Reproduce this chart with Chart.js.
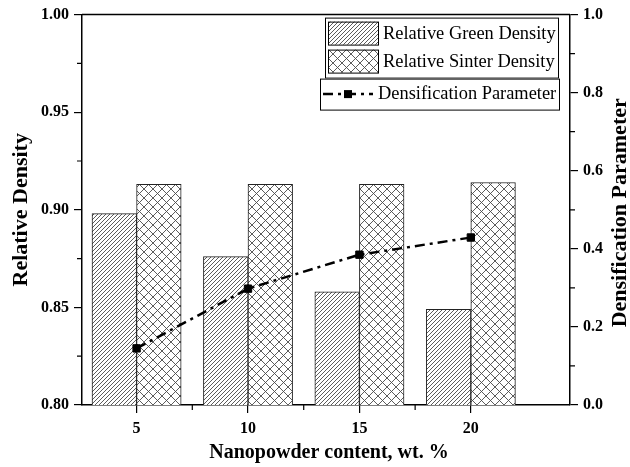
<!DOCTYPE html>
<html>
<head>
<meta charset="utf-8">
<script src="https://cdn.jsdelivr.net/npm/chart.js@4.4.0/dist/chart.umd.min.js"></script>
<style>
  html, body { margin: 0; padding: 0; background: #fff; }
  #wrap { width: 630px; height: 467px; position: relative; }
</style>
</head>
<body>
<div id="wrap"><canvas id="grafico"></canvas></div>
<script>
// Valores
const conteudo = [5, 10, 15, 20];                 // Nanopowder content, wt. %
const densVerde = [0.898, 0.876, 0.858, 0.849];   // Relative Green Density
const densSinter = [0.913, 0.913, 0.913, 0.914];  // Relative Sinter Density
const paramDensif = [0.145, 0.298, 0.385, 0.429]; // Densification Parameter
const ticksX = [5, 10, 15, 20];
const ticksEsq = [0.80, 0.85, 0.90, 0.95, 1.00];
const ticksDir = [0.0, 0.2, 0.4, 0.6, 0.8, 1.0];

const FONTE = "'Liberation Serif', 'Times New Roman', serif";
const MEIA_BARRA = 1; // meia largura de cada barra, em wt. %
const TRACO = [10, 5, 3, 5]; // traço-ponto da linha

// Padrões de hachura (diagonal e xadrez)
function criarPadrao(tam, desenha) {
  const c = document.createElement('canvas');
  c.width = c.height = tam;
  const ctx = c.getContext('2d');
  ctx.fillStyle = '#fff';
  ctx.fillRect(0, 0, tam, tam);
  ctx.strokeStyle = '#4a4a4a';
  ctx.lineWidth = 0.9;
  desenha(ctx, tam);
  return ctx.createPattern(c, 'repeat');
}

const padraoDiagonal = criarPadrao(4, (ctx, t) => {
  ctx.beginPath();
  ctx.moveTo(0, t); ctx.lineTo(t, 0);
  ctx.moveTo(-1, 1); ctx.lineTo(1, -1);
  ctx.moveTo(t - 1, t + 1); ctx.lineTo(t + 1, t - 1);
  ctx.stroke();
});

const padraoXadrez = criarPadrao(9, (ctx, t) => {
  ctx.beginPath();
  ctx.moveTo(0, 0); ctx.lineTo(t, t);
  ctx.moveTo(0, t); ctx.lineTo(t, 0);
  ctx.stroke();
});

// Pontos médios entre ticks principais -> ticks menores
function meios(arr) {
  const r = [];
  for (let i = 0; i < arr.length - 1; i++) r.push((arr[i] + arr[i + 1]) / 2);
  return r;
}

// Moldura, ticks menores, títulos dos eixos e legenda
const pluginExtras = {
  id: 'extras',
  afterDatasetsDraw(chart) {
    const { ctx, chartArea: a, scales } = chart;
    ctx.save();
    ctx.strokeStyle = '#000';
    ctx.lineWidth = 1.5;
    ctx.beginPath();
    ctx.moveTo(a.left, a.top); ctx.lineTo(a.right, a.top);
    ctx.stroke();

    ctx.lineWidth = 1.2;
    ctx.beginPath();
    meios(ticksX).forEach(v => {
      const x = scales.x.getPixelForValue(v);
      ctx.moveTo(x, a.bottom); ctx.lineTo(x, a.bottom + 5);
    });
    meios(ticksEsq).forEach(v => {
      const y = scales.y.getPixelForValue(v);
      ctx.moveTo(a.left, y); ctx.lineTo(a.left - 5, y);
    });
    meios(ticksDir).forEach(v => {
      const y = scales.y1.getPixelForValue(v);
      ctx.moveTo(a.right, y); ctx.lineTo(a.right + 5, y);
    });
    ctx.stroke();

    // títulos
    ctx.fillStyle = '#000';
    ctx.font = `bold 20px ${FONTE}`;
    ctx.textAlign = 'center';
    ctx.textBaseline = 'middle';
    ctx.fillText('Nanopowder content, wt. %', (a.left + a.right) / 2 + 3, 453);
    ctx.font = `bold 22px ${FONTE}`;
    ctx.save();
    ctx.translate(21, (a.top + a.bottom) / 2);
    ctx.rotate(-Math.PI / 2);
    ctx.fillText('Relative Density', 0, 0);
    ctx.restore();
    ctx.save();
    ctx.translate(620, (a.top + a.bottom) / 2 + 3);
    ctx.rotate(-Math.PI / 2);
    ctx.fillText('Densification Parameter', 0, 0);
    ctx.restore();

    // legenda
    ctx.font = `18.4px ${FONTE}`;
    ctx.textAlign = 'left';
    ctx.lineWidth = 1;
    const dir = a.right - 12;
    const topo = a.top + 3;
    // caixa 1
    ctx.fillStyle = '#fff';
    ctx.fillRect(325, topo, dir - 325, 60);
    ctx.strokeRect(325.5, topo + 0.5, dir - 325, 60);
    [[padraoDiagonal, 'Relative Green Density'], [padraoXadrez, 'Relative Sinter Density']].forEach(([p, txt], i) => {
      const y = topo + 4 + i * 28;
      ctx.fillStyle = p;
      ctx.fillRect(328, y, 50, 23);
      ctx.strokeRect(328.5, y + 0.5, 50, 23);
      ctx.fillStyle = '#000';
      ctx.fillText(txt, 383, y + 12.5);
    });
    // caixa 2
    const topo2 = topo + 61;
    ctx.fillStyle = '#fff';
    ctx.fillRect(320, topo2, dir + 1 - 320, 31);
    ctx.strokeRect(320.5, topo2 + 0.5, dir + 1 - 320, 31);
    ctx.strokeStyle = '#000';
    ctx.lineWidth = 2.5;
    ctx.setLineDash(TRACO);
    ctx.beginPath();
    ctx.moveTo(323, topo2 + 15.5); ctx.lineTo(373, topo2 + 15.5);
    ctx.stroke();
    ctx.setLineDash([]);
    ctx.fillStyle = '#000';
    ctx.fillRect(344, topo2 + 11.5, 8, 8);
    ctx.fillText('Densification Parameter', 378, topo2 + 16);
    ctx.restore();
  }
};

const fonteTicks = { family: FONTE, size: 16, weight: 'bold' };

new Chart(document.getElementById('grafico'), {
  data: {
    datasets: [
      {
        type: 'line',
        label: 'Densification Parameter',
        data: conteudo.map((c, i) => ({ x: c, y: paramDensif[i] })),
        yAxisID: 'y1',
        borderColor: '#000',
        borderWidth: 2.5,
        borderDash: TRACO,
        pointStyle: 'rect',
        pointRadius: 5.2,
        pointBackgroundColor: '#000',
        pointBorderColor: '#000',
        pointBorderWidth: 1,
        tension: 0,
        order: 0
      },
      {
        type: 'bar',
        label: 'Relative Green Density',
        data: conteudo.map((c, i) => ({ x: c - MEIA_BARRA, y: densVerde[i] })),
        yAxisID: 'y',
        backgroundColor: padraoDiagonal,
        borderColor: '#222',
        borderWidth: 1,
        borderSkipped: false,
        barThickness: 44.6,
        grouped: false,
        order: 1
      },
      {
        type: 'bar',
        label: 'Relative Sinter Density',
        data: conteudo.map((c, i) => ({ x: c + MEIA_BARRA, y: densSinter[i] })),
        yAxisID: 'y',
        backgroundColor: padraoXadrez,
        borderColor: '#222',
        borderWidth: 1,
        borderSkipped: false,
        barThickness: 44.6,
        grouped: false,
        order: 1
      }
    ]
  },
  options: {
    responsive: true,
    maintainAspectRatio: false,
    animation: false,
    layout: { padding: { top: 13, left: 0, right: 0, bottom: 0 } },
    plugins: { legend: { display: false }, tooltip: { enabled: false } },
    scales: {
      x: {
        type: 'linear',
        min: 2.55,
        max: 24.45,
        offset: false,
        afterBuildTicks: s => { s.ticks = ticksX.map(v => ({ value: v })); },
        afterFit: s => { s.height = 62; },
        grid: { offset: false, drawOnChartArea: false, drawTicks: true, tickLength: 8, color: '#000', lineWidth: 1.2 },
        border: { display: true, color: '#000', width: 1.5 },
        ticks: { font: fonteTicks, color: '#000', padding: 6, maxRotation: 0 }
      },
      y: {
        position: 'left',
        min: 0.8,
        max: 1.0,
        afterBuildTicks: s => { s.ticks = ticksEsq.map(v => ({ value: v })); },
        afterFit: s => { s.width = 82; },
        grid: { drawOnChartArea: false, drawTicks: true, tickLength: 8, color: '#000', lineWidth: 1.2 },
        border: { display: true, color: '#000', width: 1.5 },
        ticks: { font: fonteTicks, color: '#000', padding: 5, callback: v => v.toFixed(2) }
      },
      y1: {
        position: 'right',
        min: 0,
        max: 1,
        afterBuildTicks: s => { s.ticks = ticksDir.map(v => ({ value: v })); },
        afterFit: s => { s.width = 60; },
        grid: { drawOnChartArea: false, drawTicks: true, tickLength: 8, color: '#000', lineWidth: 1.2 },
        border: { display: true, color: '#000', width: 1.5 },
        ticks: { font: fonteTicks, color: '#000', padding: 5, callback: v => v.toFixed(1) }
      }
    }
  },
  plugins: [pluginExtras]
});
</script>
</body>
</html>
